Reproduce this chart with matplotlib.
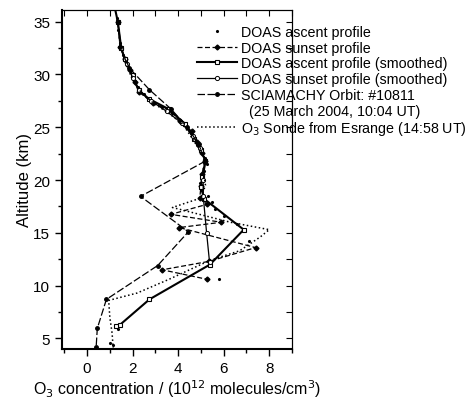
import matplotlib.pyplot as plt

plt.rcParams['font.family'] = ['Liberation Sans', 'DejaVu Sans']

# DOAS ascent profile (raw points)
asc_alt = [35.3, 34.2, 33.0, 32.4, 31.8, 31.2, 30.6, 30.0, 29.4, 28.8, 28.1, 27.5, 26.9, 26.3,
           25.7, 25.1, 24.5, 23.9, 23.3, 22.7, 22.1, 21.5, 20.9, 20.3, 19.7, 19.1, 18.5, 17.9,
           17.3, 16.6, 15.8, 14.2, 10.6, 5.9, 4.6, 4.4]
asc_x = [1.3, 1.38, 1.45, 1.52, 1.6, 1.72, 1.85, 1.97, 2.1, 2.22, 2.5, 2.85, 3.3, 3.75,
         4.1, 4.35, 4.55, 4.72, 4.85, 5.0, 5.2, 5.25, 5.12, 5.05, 4.95, 5.05, 5.3, 5.5,
         5.6, 6.0, 6.6, 7.1, 5.8, 1.35, 1.0, 1.15]

# DOAS sunset profile (raw)
sun_alt = [35.0, 32.6, 31.5, 30.4, 29.3, 28.3, 27.3, 26.6, 25.6, 24.6, 23.6, 22.6, 21.8,
           20.6, 19.4, 18.3, 17.7, 16.75, 16.0, 15.5, 13.6, 12.3, 11.5, 10.6]
sun_x = [1.35, 1.45, 1.65, 1.9, 2.1, 2.3, 2.9, 3.6, 4.1, 4.6, 4.85, 5.05, 5.2,
         5.05, 5.0, 4.95, 5.27, 3.68, 5.9, 4.05, 7.4, 5.36, 3.3, 5.27]

# DOAS ascent profile (smoothed)
ass_alt = [36.5, 35.0, 32.5, 31.5, 29.9, 28.5, 27.7, 26.7, 25.3, 23.9, 22.8, 21.8, 20.3,
           19.3, 18.2, 15.3, 12.0, 8.7, 6.3, 6.2]
ass_x = [1.2, 1.35, 1.5, 1.65, 2.0, 2.26, 2.7, 3.6, 4.3, 4.7, 5.0, 5.2, 5.05,
         5.0, 5.15, 6.88, 5.4, 2.74, 1.45, 1.25]

# DOAS sunset profile (smoothed)
sss_alt = [35.0, 32.5, 31.0, 29.7, 28.5, 27.5, 26.5, 25.4, 24.2, 23.0, 21.8, 20.0, 18.5, 15.0, 12.2]
sss_x = [1.35, 1.5, 1.75, 2.0, 2.3, 2.8, 3.5, 4.15, 4.65, 4.95, 5.2, 5.1, 5.1, 5.25, 5.38]

# SCIAMACHY
sci_alt = [35.0, 32.6, 30.6, 28.55, 26.7, 25.0, 23.4, 21.8, 18.45, 15.1, 11.9, 8.7, 5.95, 4.2]
sci_x = [1.35, 1.45, 1.86, 2.74, 3.7, 4.4, 4.9, 5.2, 2.35, 4.45, 3.1, 0.85, 0.45, 0.4]

# O3 sonde from Esrange
son_alt = [4.0, 5.5, 7.0, 8.6, 9.3, 10.6, 12.4, 13.3, 14.6, 15.3, 16.0, 17.4, 18.3, 19.5,
           21.0, 22.0, 23.0, 24.0, 25.3, 26.3, 27.3, 28.5, 29.5, 30.5, 31.5, 32.7]
son_x = [1.15, 1.1, 1.0, 0.95, 2.2, 3.6, 5.4, 6.7, 7.6, 8.0, 6.3, 3.75, 5.0, 5.2,
         5.1, 5.2, 4.9, 4.6, 4.2, 3.6, 2.9, 2.3, 2.0, 1.8, 1.6, 1.5]

fig = plt.figure(figsize=(4.73, 4.02), dpi=100)
ax = fig.add_axes([62/473, 52/402, 230/473, 339/402])

ax.plot(asc_x, asc_alt, linestyle='none', marker='.', ms=2.5, color='k',
        label='DOAS ascent profile')
ax.plot(sun_x, sun_alt, linestyle=(0, (4, 2)), lw=0.9, marker='D', ms=2.5, color='k',
        label='DOAS sunset profile')
ax.plot(ass_x, ass_alt, '-', lw=1.5, marker='s', ms=3.5, mfc='white', mew=0.8, color='k',
        label='DOAS ascent profile (smoothed)')
ax.plot(sss_x, sss_alt, '-', lw=0.9, marker='o', ms=3, mfc='white', mew=0.7, color='k',
        label='DOAS sunset profile (smoothed)')
ax.plot(sci_x, sci_alt, linestyle=(0, (6, 2)), lw=0.9, marker='o', ms=2.5, color='k',
        label='SCIAMACHY Orbit: #10811')
ax.plot([], [], ' ', label='  (25 March 2004, 10:04 UT)')
ax.plot(son_x, son_alt, ':', lw=1.1, color='k',
        label='O$_3$ Sonde from Esrange (14:58 UT)')

ax.set_xlim(-1.1, 8.95)
ax.set_ylim(4.0, 36.1)
ax.set_xticks([0, 2, 4, 6, 8])
ax.set_xticks([-1, 1, 3, 5, 7, 9], minor=True)
ax.set_yticks([5, 10, 15, 20, 25, 30, 35])
ax.set_yticks([7.5, 12.5, 17.5, 22.5, 27.5, 32.5], minor=True)
ax.tick_params(direction='out', length=5, width=1, labelsize=11)
ax.tick_params(which='minor', direction='out', length=3, width=1)
ax.spines['left'].set_linewidth(1.5)
ax.spines['bottom'].set_linewidth(1.5)

top = ax.secondary_xaxis('top')
top.set_xticks([-1, 0, 1, 2, 3, 4, 5, 6, 7, 8, 9])
top.tick_params(direction='in', length=4, labeltop=False)
right = ax.secondary_yaxis('right')
right.set_yticks([5, 7.5, 10, 12.5, 15, 17.5, 20, 22.5, 25, 27.5, 30, 32.5, 35])
right.tick_params(direction='in', length=4, labelright=False)

ax.set_xlabel('O$_3$ concentration / (10$^{12}$ molecules/cm$^3$)', fontsize=11.5, labelpad=2)
ax.set_ylabel('Altitude (km)', fontsize=12, labelpad=1)

leg = ax.legend(loc='upper left', bbox_to_anchor=(197/473, 1 - 26/402),
                bbox_transform=fig.transFigure, frameon=False, fontsize=10.3,
                handlelength=2.8, handletextpad=0.3, labelspacing=0.12,
                borderaxespad=0, borderpad=0)

fig.savefig('out.png', dpi=100)
